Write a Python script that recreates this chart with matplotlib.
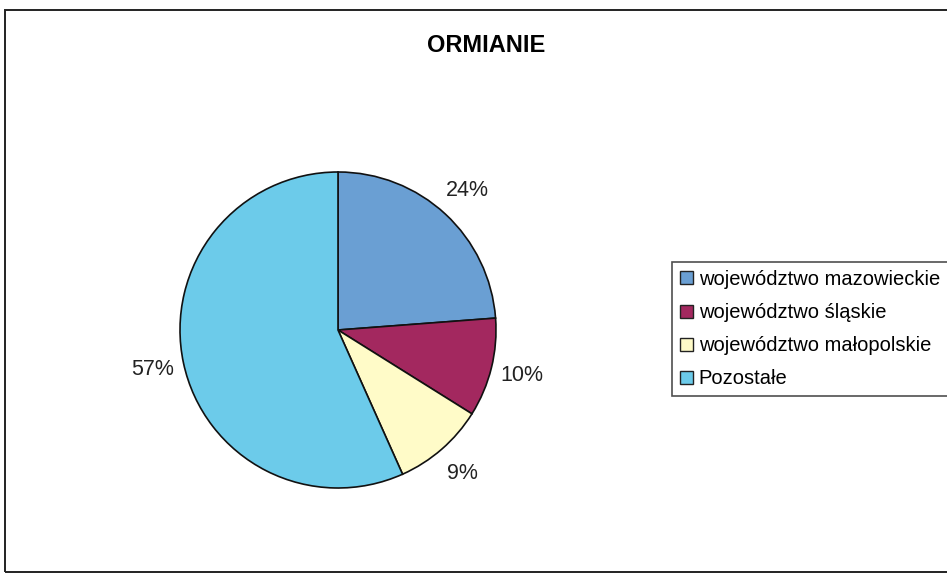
import matplotlib
matplotlib.use("Agg")
import matplotlib.pyplot as plt
from matplotlib.patches import Rectangle

# dane
categories = ["województwo mazowieckie", "województwo śląskie",
              "województwo małopolskie", "Pozostałe"]
shares = [23.8, 10.1, 9.4, 56.7]
colors = ["#6A9FD3", "#A3285F", "#FFFBC8", "#6CCBEA"]
title = "ORMIANIE"

plt.rcParams["font.family"] = ["Liberation Sans", "DejaVu Sans"]

W, H = 947, 574
fig = plt.figure(figsize=(W / 100, H / 100), dpi=100)

# ramka wykresu (wychodzi poza prawą krawędź)
fig.patches.append(Rectangle((5 / W, 2 / H), 1.2, (H - 12) / H,
                             transform=fig.transFigure, fill=False,
                             edgecolor="#222222", linewidth=1.4))

cx, cy, r = 338, 330, 158
half = 175
ax = fig.add_axes([(cx - half) / W, (H - cy - half) / H, 2 * half / W, 2 * half / H])
wedges, _, autotexts = ax.pie(
    shares, colors=colors, startangle=90, counterclock=False,
    autopct=lambda p: f"{p:.0f}%", pctdistance=1.2,
    wedgeprops=dict(edgecolor="#111111", linewidth=1.2),
    textprops=dict(fontsize=15.5, color="#222222"),
)
lim = half / r
ax.set_xlim(-lim, lim)
ax.set_ylim(-lim, lim)
ax.set_aspect("equal")
ax.axis("off")

fig.text(486 / W, 1 - 45 / H, title, ha="center", va="center",
         fontsize=17, fontweight="bold")

leg = fig.legend(wedges, categories, loc="upper left",
                 bbox_to_anchor=(672 / W, 1 - 262 / H),
                 fontsize=14.5, frameon=True, fancybox=False,
                 handlelength=0.62, handleheight=0.62, handletextpad=0.3,
                 labelspacing=0.7, borderpad=0.4, borderaxespad=0)
leg.get_frame().set_edgecolor("#222222")
leg.get_frame().set_linewidth(1.2)
for h in leg.legend_handles:
    h.set_edgecolor("#222222")
    h.set_linewidth(1.0)

fig.savefig("out.png", dpi=100)
